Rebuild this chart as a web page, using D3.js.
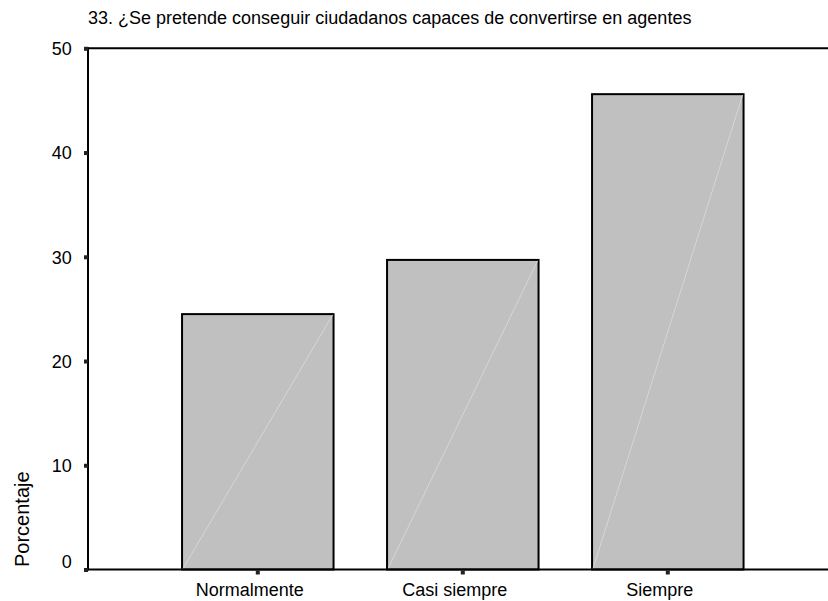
<!DOCTYPE html>
<html>
<head>
<meta charset="utf-8">
<script src="https://cdn.jsdelivr.net/npm/d3@7"></script>
<style>
  html, body { margin: 0; padding: 0; background: #fff; }
  svg { display: block; }
  text { font-family: "Liberation Sans", Arial, sans-serif; fill: #000; }
</style>
</head>
<body>
<svg id="chart" width="828" height="601"></svg>
<script>
const categories = ["Normalmente", "Casi siempre", "Siempre"];
const values = [24.5, 29.7, 45.6];
const yTicks = [0, 10, 20, 30, 40, 50];
const title = "33. ¿Se pretende conseguir ciudadanos capaces de convertirse en agentes";
const yLabel = "Porcentaje";

(function() {
const svg = d3.select("#chart");
const W = 828, H = 601;
const mLeft = 88, mTop = 48.3, mBottom = 569.5;

const x = d3.scaleBand().domain(categories).range([155.3, 770.3])
  .paddingInner(0.261).paddingOuter(0.1305);
const y = d3.scaleLinear().domain([0, 50]).range([mBottom, mTop]);

// title
svg.append("text").attr("x", 88).attr("y", 24)
  .attr("font-size", 18).text(title);

// bars
const bars = svg.append("g");
categories.forEach((c, i) => {
  const x0 = x(c), x1 = x(c) + x.bandwidth();
  const yt = y(values[i]), yb = y(0);
  bars.append("rect").attr("x", x0).attr("y", yt)
    .attr("width", x.bandwidth()).attr("height", yb - yt)
    .attr("fill", "#c0c0c0").attr("stroke", "#000").attr("stroke-width", 2);
  bars.append("line").attr("x1", x0 + 1).attr("y1", yb - 1)
    .attr("x2", x1 - 1).attr("y2", yt + 1)
    .attr("stroke", "#d6d6d6").attr("stroke-width", 1);
});

// frame lines: top and bottom extend past right edge
svg.append("line").attr("x1", mLeft).attr("x2", W).attr("y1", y(50)).attr("y2", y(50))
  .attr("stroke", "#000").attr("stroke-width", 2);
svg.append("line").attr("x1", mLeft).attr("x2", W).attr("y1", y(0)).attr("y2", y(0))
  .attr("stroke", "#000").attr("stroke-width", 2);
svg.append("line").attr("x1", mLeft).attr("x2", mLeft).attr("y1", y(50) - 1).attr("y2", y(0) + 1)
  .attr("stroke", "#000").attr("stroke-width", 2);

// y axis ticks + labels
const yAxis = d3.axisLeft(y).tickValues(yTicks).tickSize(0).tickPadding(0).tickFormat(d3.format("d"));
const gy = svg.append("g").attr("transform", `translate(${mLeft},0)`).call(yAxis);
gy.select(".domain").remove();
gy.selectAll(".tick").each(function(d) {
  const g = d3.select(this);
  g.append("rect").attr("x", -4).attr("y", -2).attr("width", 4).attr("height", 4).attr("fill", "#222");
  g.select("text").attr("x", -16.3).attr("dy", d === 0 ? "-0.1em" : "0.35em")
    .attr("font-size", 18).attr("font-family", "Liberation Sans, Arial, sans-serif").attr("fill", "#000");
});

// x axis ticks + labels
const xAxis = d3.axisBottom(x).tickSize(0).tickPadding(0);
const gx = svg.append("g").attr("transform", `translate(0,${mBottom})`).call(xAxis);
gx.select(".domain").remove();
gx.selectAll(".tick").each(function() {
  const g = d3.select(this);
  g.append("rect").attr("x", -2).attr("y", 1).attr("width", 4).attr("height", 4).attr("fill", "#222");
  g.select("text").attr("x", -8).attr("y", 26.5).attr("dy", 0)
    .attr("font-size", 18).attr("font-family", "Liberation Sans, Arial, sans-serif").attr("fill", "#000");
});

// y label
svg.append("text").attr("transform", `translate(29,567) rotate(-90)`)
  .attr("text-anchor", "start").attr("font-size", 20).text(yLabel);
})();
</script>
</body>
</html>
